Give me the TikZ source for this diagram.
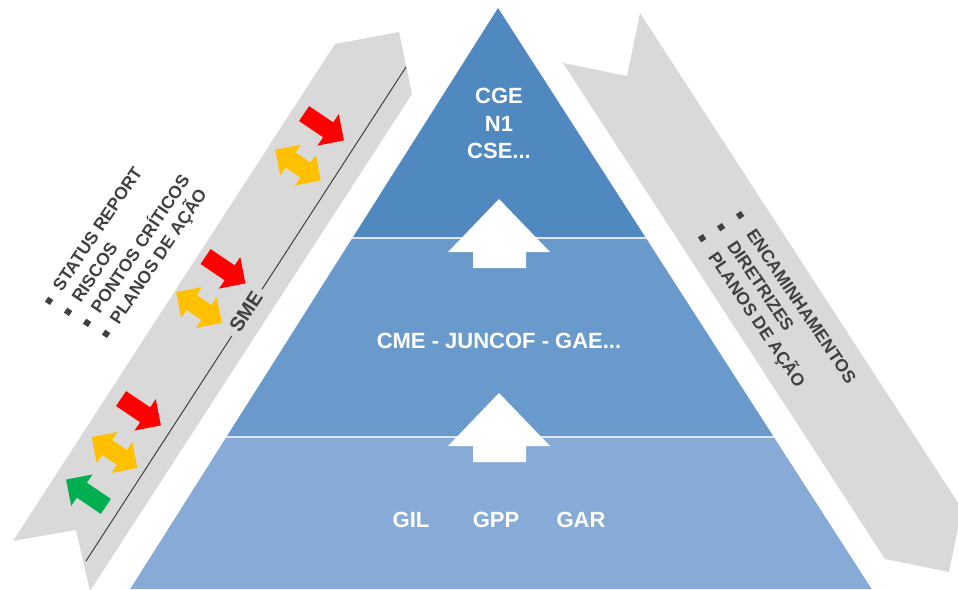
\documentclass[tikz,border=0pt]{standalone}
\usepackage{fontspec}
\setmainfont{Liberation Sans}
\definecolor{bandgray}{HTML}{D9D9D9}
\definecolor{inkgray}{HTML}{404040}
\definecolor{tiertop}{HTML}{5089BF}
\definecolor{tiermid}{HTML}{6A9ACB}
\definecolor{tierlow}{HTML}{87ABD6}
\definecolor{tierline}{HTML}{DCE6F2}
\definecolor{sigred}{HTML}{FF0000}
\definecolor{sigamber}{HTML}{FFC000}
\definecolor{siggreen}{HTML}{00B050}
\newcommand{\bulletsq}[1]{\raisebox{3pt}{\rule{6pt}{6pt}}\hspace{#1}}

\begin{document}
\begin{tikzpicture}[x=1pt,y=-1pt,
  tiertext/.style={text=white,font=\bfseries\fontsize{22}{26}\selectfont,inner sep=0pt,anchor=base},
  sidetext/.style={text=inkgray,font=\bfseries\fontsize{17.5}{20}\selectfont,inner sep=0pt,anchor=west,text height=12pt,text depth=0pt},
  band/.style={fill=bandgray},
  tierdivider/.style={draw=tierline,line width=2pt},
  uparrow/.style={fill=white},
  onearrow/.pic={\fill[#1] (-24,-9) -- (5,-9) -- (5,-19) -- (24,0) -- (5,19) -- (5,9) -- (-24,9) -- cycle;},
  twoarrow/.pic={\fill[#1] (-27.5,0) -- (-9,-18.5) -- (-9,-9) -- (9,-9) -- (9,-18.5) -- (27.5,0)
      -- (9,18.5) -- (9,9) -- (-9,9) -- (-9,18.5) -- cycle;}]

\useasboundingbox (0,0) rectangle (958,589);

% side bands
\fill[band] (335,44) -- (399,32) -- (412,94) -- (90,591) -- (76,530) -- (13,541) -- cycle;
\fill[band] (563,63) -- (627,76) -- (640,13) -- (962,509) -- (949,572) -- (885,559) -- cycle;

% pyramid tiers
\coordinate (apex) at (498,8);
\coordinate (aL) at (352.4,238);
\coordinate (aR) at (645.9,238);
\coordinate (bL) at (226.4,437);
\coordinate (bR) at (773.8,437);
\coordinate (cL) at (130.2,589);
\coordinate (cR) at (871.6,589);
\fill[tiertop] (apex) -- (aR) -- (aL) -- cycle;
\fill[tiermid] (aL) -- (aR) -- (bR) -- (bL) -- cycle;
\fill[tierlow] (bL) -- (bR) -- (cR) -- (cL) -- cycle;
\draw[tierdivider] (aL) -- (aR);
\draw[tierdivider] (bL) -- (bR);

% white arrows between tiers
\fill[uparrow] (499,199) -- (550,252) -- (526,252) -- (526,268) -- (473,268) -- (473,252) -- (448,252) -- cycle;
\fill[uparrow] (499,393) -- (550,446) -- (526,446) -- (526,462) -- (473,462) -- (473,446) -- (448,446) -- cycle;

% tier labels
\node[tiertext] (cge) at (499,103) {CGE};
\node[tiertext] (n1) at (499,131) {N1};
\node[tiertext] (cse) at (499,158) {CSE...};
\node[tiertext] (cme) at (499,348) {CME - JUNCOF - GAE...};
\node[tiertext] (gil) at (411,527) {GIL};
\node[tiertext] (gpp) at (496,527) {GPP};
\node[tiertext] (gar) at (581,527) {GAR};

% timeline in the left band
\coordinate (lineTop) at (406,67);
\coordinate (lineBot) at (86,561);
\draw[inkgray,line width=1pt] (lineTop) -- (lineBot);
\node[fill=bandgray,text=inkgray,font=\bfseries\fontsize{20}{22}\selectfont,rotate=57,inner xsep=6pt,inner ysep=2pt] (sme) at (246,312) {SME};

% status signals
\pic[rotate=-34] at (324,127) {onearrow=sigred};
\pic[rotate=-34] at (298,165) {twoarrow=sigamber};
\pic[rotate=-34] at (225.5,270) {onearrow=sigred};
\pic[rotate=-34] at (199,307.5) {twoarrow=sigamber};
\pic[rotate=-34] at (141,412) {onearrow=sigred};
\pic[rotate=-34] at (114.5,452.5) {twoarrow=sigamber};
\pic[rotate=146] at (86,493) {onearrow=siggreen};

% upward reporting items
\node[sidetext,rotate=56] (l1) at (47.3,303.5) {\bulletsq{11pt}STATUS REPORT};
\node[sidetext,rotate=56] (l2) at (66.3,314.5) {\bulletsq{11pt}RISCOS};
\node[sidetext,rotate=56] (l3) at (85.3,325.5) {\bulletsq{11pt}PONTOS CRÍTICOS};
\node[sidetext,rotate=56] (l4) at (104.3,336.5) {\bulletsq{11pt}PLANOS DE AÇÃO};

% downward guidance items
\node[sidetext,rotate=-56] (r1) at (738.3,212.5) {\bulletsq{16pt}ENCAMINHAMENTOS};
\node[sidetext,rotate=-56] (r2) at (719.3,224.5) {\bulletsq{16pt}DIRETRIZES};
\node[sidetext,rotate=-56] (r3) at (700.3,235.5) {\bulletsq{16pt}PLANOS DE AÇÃO};
\end{tikzpicture}
\end{document}
